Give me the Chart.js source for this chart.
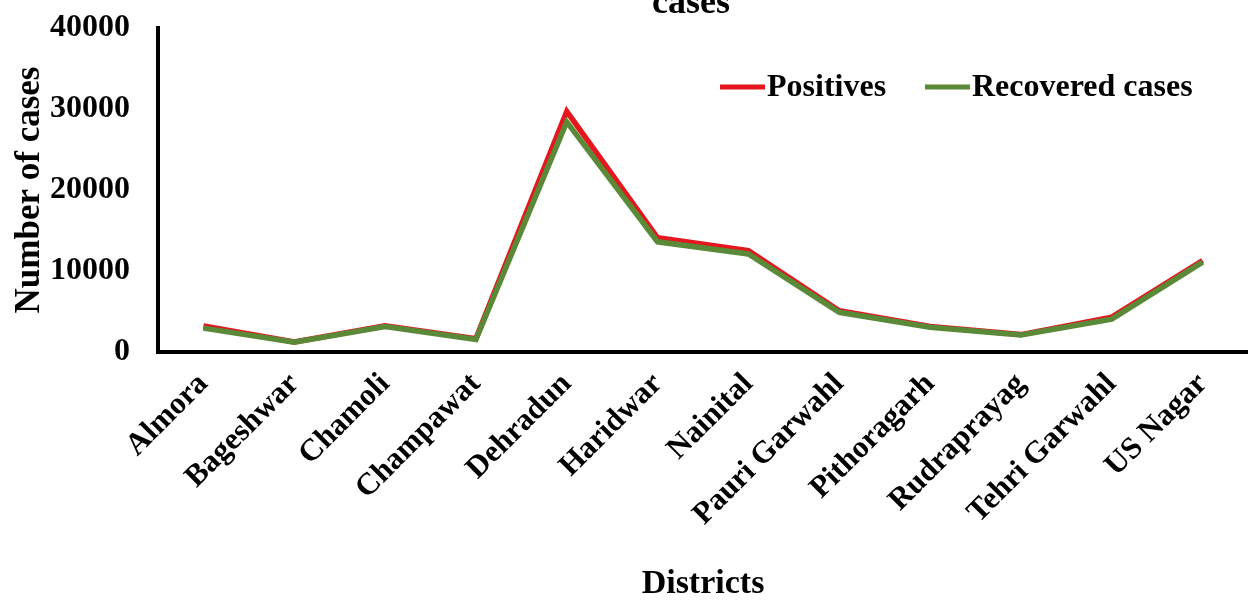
<!DOCTYPE html>
<html>
<head>
<meta charset="utf-8">
<script src="https://cdn.jsdelivr.net/npm/chart.js@4/dist/chart.umd.min.js"></script>
<style>
  html, body { margin: 0; padding: 0; background: #fff; }
  #wrap { width: 1248px; height: 605px; position: relative; }
</style>
</head>
<body>
<div id="wrap"><canvas id="chart"></canvas></div>
<script>
const districts = ['Almora', 'Bageshwar', 'Chamoli', 'Champawat', 'Dehradun', 'Haridwar',
    'Nainital', 'Pauri Garwahl', 'Pithoragarh', 'Rudraprayag', 'Tehri Garwahl', 'US Nagar'];
const positives = [3200, 1250, 3250, 1650, 29700, 14100, 12500, 5100, 3150, 2150, 4300, 11300];
const recovered = [2950, 1200, 3150, 1550, 28400, 13600, 12100, 4900, 3050, 2100, 4050, 11100];
const yTicks = [0, 10000, 20000, 30000, 40000];

const RED = '#e3171d';
const GREEN = '#5a8a37';
const FONT = 'Liberation Serif, Times New Roman, serif';

Chart.defaults.font.family = FONT;
Chart.defaults.font.weight = 'bold';
Chart.defaults.color = '#000';

// draws the cut-off title line and the in-plot legend
const overlay = {
    id: 'overlay',
    afterDraw(chart) {
        const ctx = chart.ctx;
        ctx.save();
        ctx.fillStyle = '#000';
        ctx.font = 'bold 36px ' + FONT;
        ctx.textAlign = 'center';
        ctx.textBaseline = 'alphabetic';
        ctx.fillText('cases', 691, 13);

        const items = [{ x: 720 }, { x: 925 }];
        ctx.font = 'bold 32px ' + FONT;
        ctx.textAlign = 'left';
        ctx.textBaseline = 'middle';
        chart.data.datasets.forEach((ds, i) => {
            const x = items[i].x;
            const y = 87;
            ctx.strokeStyle = ds.borderColor;
            ctx.lineWidth = 5;
            ctx.beginPath();
            ctx.moveTo(x, y);
            ctx.lineTo(x + 45, y);
            ctx.stroke();
            ctx.fillText(ds.label, x + 47, y + 1);
        });
        ctx.restore();
    }
};

new Chart(document.getElementById('chart'), {
    type: 'line',
    data: {
        labels: districts,
        datasets: [{
            label: 'Positives',
            data: positives,
            borderColor: RED,
            borderWidth: 5.5,
            pointRadius: 0,
            tension: 0,
            order: 1
        }, {
            label: 'Recovered cases',
            data: recovered,
            borderColor: GREEN,
            borderWidth: 5.5,
            pointRadius: 0,
            tension: 0,
            order: 0
        }]
    },
    options: {
        responsive: true,
        maintainAspectRatio: false,
        animation: false,
        layout: { padding: { top: 28, left: 0, right: 0, bottom: 0 } },
        plugins: {
            legend: { display: false },
            tooltip: { enabled: false }
        },
        scales: {
            x: {
                offset: true,
                grid: { display: false, drawTicks: false },
                border: { color: '#000', width: 4 },
                ticks: {
                    autoSkip: false,
                    minRotation: 45,
                    maxRotation: 45,
                    padding: 14,
                    font: { size: 31 }
                },
                title: {
                    display: true,
                    text: 'Districts',
                    font: { size: 34 },
                    padding: { top: 0, bottom: 0 }
                },
                afterFit(scale) {
                    scale.height = 253;
                    scale.paddingLeft = 0;
                    scale.paddingRight = 0;
                }
            },
            y: {
                min: 0,
                max: 40000,
                grid: { display: false, drawTicks: false },
                border: { color: '#000', width: 4 },
                afterBuildTicks(scale) { scale.ticks = yTicks.map(v => ({ value: v })); },
                ticks: {
                    padding: 28,
                    font: { size: 32 },
                    callback: v => String(v)
                },
                title: {
                    display: true,
                    text: 'Number of cases',
                    font: { size: 35 },
                    padding: { top: 9, bottom: 0 }
                },
                afterFit(scale) {
                    scale.width = 158;
                    scale.paddingTop = 0;
                    scale.paddingBottom = 0;
                }
            }
        }
    },
    plugins: [overlay]
});
</script>
</body>
</html>
